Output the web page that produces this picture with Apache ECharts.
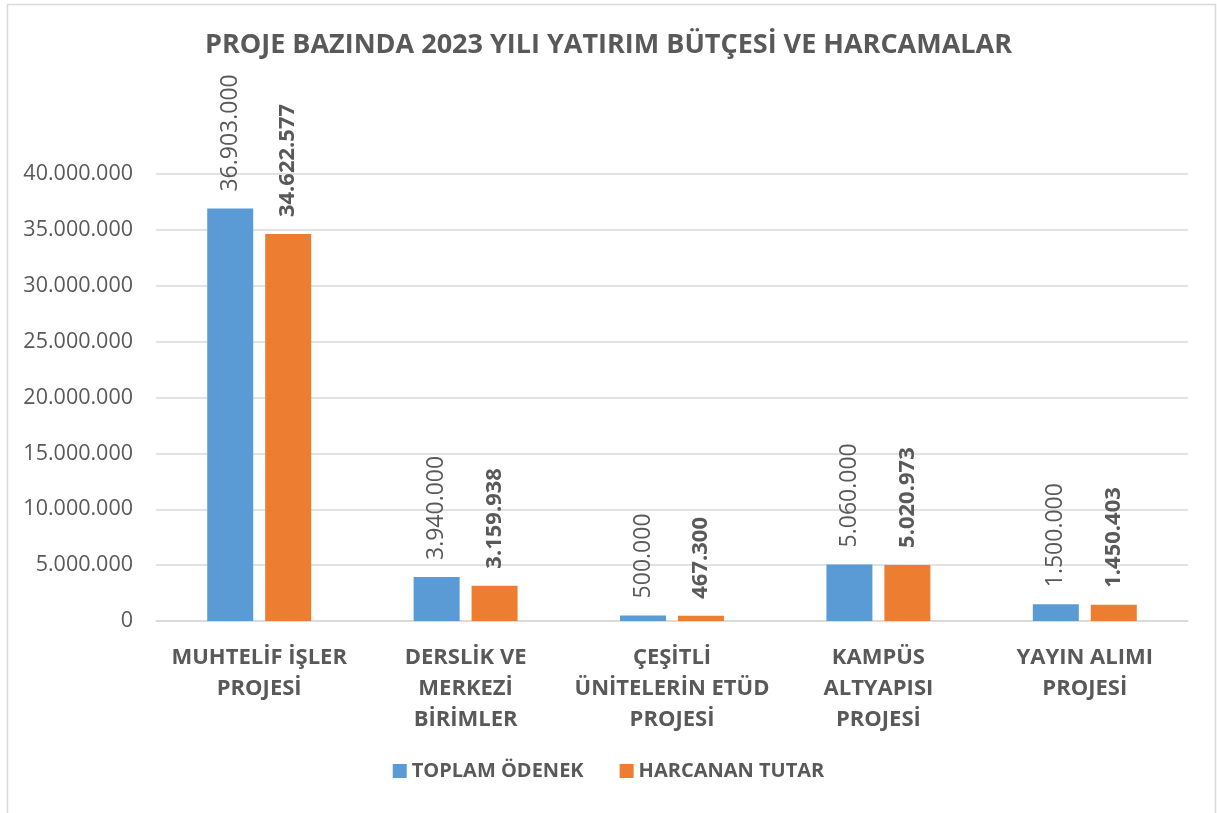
<!DOCTYPE html>
<html>
<head>
<meta charset="utf-8">
<script src="https://cdn.jsdelivr.net/npm/echarts@6/dist/echarts.min.js"></script>
<style>
  html, body { margin: 0; padding: 0; background: #fff; }
  #chart { width: 1217px; height: 813px; }
</style>
</head>
<body>
<div id="chart"></div>
<script>
const categories = [
  'MUHTELİF İŞLER\nPROJESİ',
  'DERSLİK VE\nMERKEZİ\nBİRİMLER',
  'ÇEŞİTLİ\nÜNİTELERİN ETÜD\nPROJESİ',
  'KAMPÜS\nALTYAPISI\nPROJESİ',
  'YAYIN ALIMI\nPROJESİ'
];
const toplamOdenek = [36903000, 3940000, 500000, 5060000, 1500000];
const harcananTutar = [34622577, 3159938, 467300, 5020973, 1450403];

const grey = '#595959';
const font = '"Open Sans", "Noto Sans", sans-serif';

// dot as thousands separator
function fmt(v) {
  return String(v).replace(/\B(?=(\d{3})+(?!\d))/g, '.');
}

const chart = echarts.init(document.getElementById('chart'));
const option = {
  backgroundColor: '#fff',
  textStyle: { fontFamily: font },
  graphic: [{
    type: 'rect',
    shape: { x: 7.5, y: 4.5, width: 1208, height: 830 },
    style: { fill: 'none', stroke: '#d9d9d9', lineWidth: 1.5 },
    silent: true
  }],
  title: {
    text: 'PROJE BAZINDA 2023 YILI YATIRIM BÜTÇESİ VE HARCAMALAR',
    left: 'center',
    top: 27,
    textStyle: { fontFamily: font, fontSize: 27, fontWeight: 'bold', color: grey }
  },
  legend: {
    bottom: 27,
    left: 'center',
    itemWidth: 14,
    itemHeight: 14,
    itemGap: 36,
    icon: 'rect',
    textStyle: { fontFamily: font, fontSize: 20, fontWeight: 'bold', color: grey },
    data: ['TOPLAM ÖDENEK', 'HARCANAN TUTAR']
  },
  grid: { left: 156, right: 29, top: 174, bottom: 192 },
  xAxis: {
    type: 'category',
    data: categories,
    axisLine: { lineStyle: { color: '#d9d9d9', width: 1.5 } },
    axisTick: { show: false },
    axisLabel: {
      interval: 0,
      margin: 21,
      fontFamily: font,
      fontSize: 22,
      fontWeight: 'bold',
      color: grey,
      lineHeight: 31
    }
  },
  yAxis: {
    type: 'value',
    min: 0,
    max: 40000000,
    interval: 5000000,
    axisLine: { show: false },
    axisTick: { show: false },
    splitLine: { lineStyle: { color: '#d9d9d9', width: 1.5 } },
    axisLabel: {
      margin: 23,
      fontFamily: font,
      fontSize: 21.5,
      color: grey,
      formatter: fmt
    }
  },
  series: [
    {
      name: 'TOPLAM ÖDENEK',
      type: 'bar',
      data: toplamOdenek,
      barWidth: 46,
      barGap: '26%',
      itemStyle: { color: '#5b9bd5' },
      label: {
        show: true,
        position: 'top',
        rotate: 90,
        align: 'left',
        verticalAlign: 'middle',
        distance: 17,
        fontFamily: font,
        fontSize: 23,
        color: grey,
        formatter: p => fmt(p.value)
      }
    },
    {
      name: 'HARCANAN TUTAR',
      type: 'bar',
      data: harcananTutar,
      barWidth: 46,
      itemStyle: { color: '#ed7d31' },
      label: {
        show: true,
        position: 'top',
        rotate: 90,
        align: 'left',
        verticalAlign: 'middle',
        distance: 17,
        fontFamily: font,
        fontSize: 22,
        fontWeight: 'bold',
        color: grey,
        formatter: p => fmt(p.value)
      }
    }
  ]
};
chart.setOption(option);
</script>
</body>
</html>
